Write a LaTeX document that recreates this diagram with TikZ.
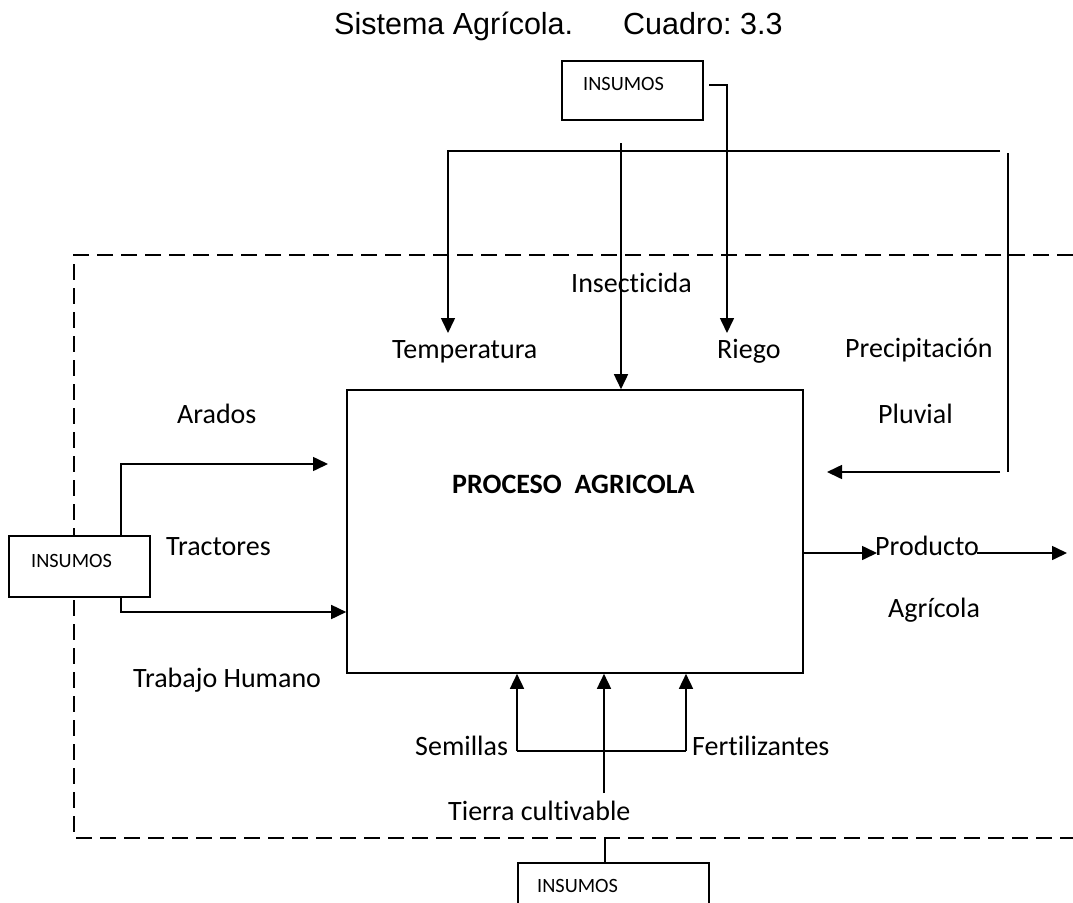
\documentclass[tikz,border=0pt]{standalone}
\usepackage{fontspec}
\setmainfont{Carlito}[Ligatures=NoCommon]
\newfontfamily\titlefont{Liberation Sans}
\usetikzlibrary{arrows.meta}
\frenchspacing

\tikzset{
  line/.style={line width=1.6pt, line cap=butt},
  arrowline/.style={line width=1.6pt, -{Triangle[length=15pt,width=14pt]}},
  border/.style={line width=1.4pt, dash pattern=on 16pt off 8pt},
  box/.style={draw, line width=1.6pt, fill=white, inner sep=0pt},
  lbl/.style={inner sep=0pt, anchor=base west, font=\fontsize{28}{34}\selectfont},
  boxlbl/.style={inner sep=0pt, anchor=base west, font=\fontsize{20.3}{24}\selectfont},
  ttl/.style={inner sep=0pt, anchor=base west, font=\titlefont\fontsize{30.5}{36}\selectfont},
}

\begin{document}
\begin{tikzpicture}[x=1pt, y=-1pt]
\useasboundingbox (0,0) rectangle (1073,902);
\clip (0,0) rectangle (1073,902);

% title
\node[ttl] (t1) at (334,34) {Sistema Agrícola.};
\node[ttl] (t2) at (623,34) {Cuadro: 3.3};

% system boundary (open on the right)
\draw[border] (1073,255) -- (74,255) -- (74,838) -- (1073,838);

% central process
\node[box, minimum width=456pt, minimum height=283pt] (proc) at (575,531.5) {};
\node[lbl, font=\fontsize{28}{34}\selectfont\bfseries] (proct) at (452,493) {PROCESO\ \ AGRICOLA};

% input boxes
\node[box, minimum width=141pt, minimum height=59pt] (insT) at (632.5,90.5) {};
\node[boxlbl] (insTt) at (583,90) {INSUMOS};
\node[box, minimum width=141pt, minimum height=61pt] (insL) at (79.5,566.5) {};
\node[boxlbl] (insLt) at (31,567) {INSUMOS};
\node[box, minimum width=191pt, minimum height=80pt] (insB) at (613.5,903) {};
\node[boxlbl] (insBt) at (537,892) {INSUMOS};

% connector points
\coordinate (topL) at (448,151);
\coordinate (topR) at (1000,151);
\coordinate (temp) at (448,333);
\coordinate (riegoS) at (709,85);
\coordinate (riegoK) at (727,85);
\coordinate (riego) at (727,333);
\coordinate (insecS) at (621,143);
\coordinate (vR1) at (1008,153);
\coordinate (vR2) at (1008,472);
\coordinate (pluvS) at (1000,472);
\coordinate (pluvE) at (827,472);
\coordinate (aradK) at (121,464);
\coordinate (aradE) at (328,464);
\coordinate (trabK) at (121,612);
\coordinate (semS) at (517,751);
\coordinate (ferS) at (686,751);
\coordinate (tieS) at (604,793);
\coordinate (prod1S) at (803,553);
\coordinate (prod1E) at (877,553);
\coordinate (prod2S) at (977,553);
\coordinate (prod2E) at (1067,553);
\coordinate (bndB) at (605,838);

% top inputs
\draw[arrowline] (topR) -- (topL) -- (temp);
\draw[arrowline] (riegoS) -- (riegoK) -- (riego);
\draw[arrowline] (insecS) -- (insecS |- proc.north);
\draw[line] (vR1) -- (vR2);
\draw[arrowline] (pluvS) -- (pluvE);

% left inputs
\draw[arrowline] (insL.north -| aradK) -- (aradK) -- (aradE);
\draw[arrowline] (insL.south -| trabK) -- (trabK) -- (trabK -| proc.west);

% bottom inputs
\draw[line] (semS) -- (ferS);
\draw[arrowline] (semS) -- (semS |- proc.south);
\draw[arrowline] (ferS) -- (ferS |- proc.south);
\draw[arrowline] (tieS) -- (tieS |- proc.south);
\draw[line] (bndB) -- (insB.north -| bndB);

% output
\draw[arrowline] (prod1S) -- (prod1E);
\draw[arrowline] (prod2S) -- (prod2E);

% labels
\node[lbl] (l1) at (571,292) {Insecticida};
\node[lbl] (l2) at (392,358) {Temperatura};
\node[lbl] (l3) at (717,358) {Riego};
\node[lbl] (l4) at (845,357) {Precipitación};
\node[lbl] (l5) at (878,423) {Pluvial};
\node[lbl] (l6) at (177,423) {Arados};
\node[lbl] (l7) at (166,555) {Tractores};
\node[lbl] (l8) at (133,687) {Trabajo Humano};
\node[lbl] (l9) at (875,555) {Producto};
\node[lbl] (l10) at (888,617) {Agrícola};
\node[lbl] (l11) at (415,755) {Semillas};
\node[lbl] (l12) at (692,755) {Fertilizantes};
\node[lbl] (l13) at (448,820) {Tierra cultivable};
\end{tikzpicture}
\end{document}
